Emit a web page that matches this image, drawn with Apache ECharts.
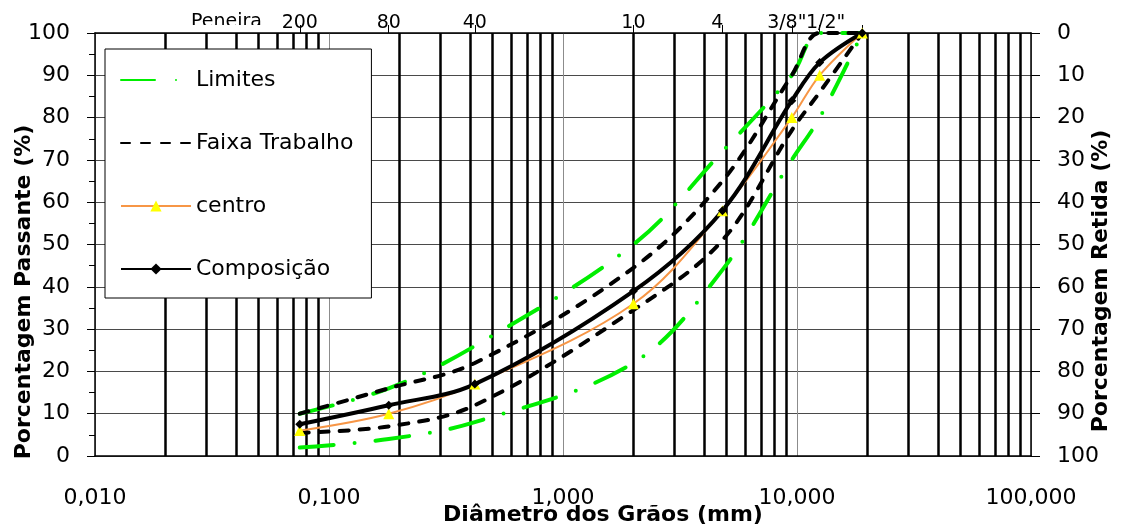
<!DOCTYPE html>
<html>
<head>
<meta charset="utf-8">
<script src="https://cdn.jsdelivr.net/npm/echarts@6/dist/echarts.min.js"></script>
<style>
html, body { margin: 0; padding: 0; background: #fff; }
#main { width: 1125px; height: 528px; }
</style>
</head>
<body>
<div id="main"></div>
<script>
// peneiras (abertura em mm) e rótulos do eixo superior
var peneiras = ['200', '80', '40', '10', '4', '3/8"', '1/2"', ''];
var aberturas = [0.075, 0.18, 0.42, 2.0, 4.8, 9.5, 12.5, 19];

// % passante
var limiteSup = [10, 16, 26, 50, 72, 90, 100, 100];
var limiteInf = [2, 4, 8, 22, 44, 70, 80, 100];
var faixaSup = [10, 16, 22, 44.5, 65, 90, 100, 100];
var faixaInf = [5.5, 7, 12, 34.5, 51, 77, 86, 100];
var centro = [6, 10, 17, 36, 58, 80, 90, 100];
var composicao = [7.5, 12, 17, 39, 58, 84, 93, 100];

var fonte = 'DejaVu Sans';

function pares(ys) {
    return aberturas.map(function (x, i) { return [x, ys[i]]; });
}

// pequenos deslocamentos dos rótulos apertados no topo
var estiloRotulo = { '4': 'e', '3/8"': 'e', '1/2"': 'd' };

function rotuloPeneira(v) {
    for (var i = 0; i < aberturas.length; i++) {
        if (Math.abs(aberturas[i] - v) < aberturas[i] * 1e-6) {
            var t = peneiras[i];
            return estiloRotulo[t] ? '{' + estiloRotulo[t] + '|' + t + '}' : t;
        }
    }
    return '';
}

var estiloLimite = { color: '#00EE00', width: 4, type: [34, 21, 0, 21], cap: 'round' };
var estiloFaixa = { color: '#000', width: 4, type: [9, 11], cap: 'round' };

var myChart = echarts.init(document.getElementById('main'));
var option = {
    animation: false,
    textStyle: { fontFamily: fonte, color: '#000' },
    grid: { left: 95, top: 33, width: 936, height: 423, containLabel: false, outerBoundsMode: 'none' },
    legend: {
        orient: 'vertical',
        left: 105,
        top: 49,
        padding: [19, 18, 17, 15],
        itemWidth: 70,
        itemHeight: 14,
        itemGap: 39,
        backgroundColor: '#fff',
        borderColor: '#000',
        borderWidth: 1,
        textStyle: { fontFamily: fonte, fontSize: 22, color: '#000', lineHeight: 24 },
        data: [
            { name: 'Limites', itemStyle: { opacity: 0 } },
            { name: 'Faixa Trabalho', itemStyle: { opacity: 0 } },
            'centro',
            'Composição'
        ]
    },
    xAxis: [
        {
            type: 'log',
            logBase: 10,
            min: 0.01,
            max: 100,
            position: 'bottom',
            axisLine: { lineStyle: { color: '#000', width: 1.5 } },
            axisTick: { show: false },
            minorTick: { show: false, splitNumber: 9 },
            axisLabel: {
                margin: 31,
                fontSize: 22,
                color: '#000',
                formatter: function (v) { return v.toFixed(3).replace('.', ','); }
            },
            splitLine: { show: true, lineStyle: { color: '#8c8c8c', width: 1 } },
            minorSplitLine: { show: true, lineStyle: { color: '#000', width: 2.5 } },
            name: 'Diâmetro dos Grãos (mm)',
            nameLocation: 'middle',
            nameGap: 48,
            nameMoveOverlap: false,
            nameTextStyle: { fontSize: 22, fontWeight: 'bold', color: '#000', padding: [0, 0, 0, 80] }
        },
        {
            type: 'log',
            logBase: 10,
            min: 0.01,
            max: 100,
            position: 'top',
            axisLine: { lineStyle: { color: '#000', width: 1.5 } },
            axisTick: { show: true, customValues: aberturas, length: 8, lineStyle: { color: '#000', width: 1 } },
            axisLabel: {
                customValues: aberturas,
                margin: 0,
                fontSize: 19,
                color: '#000',
                formatter: rotuloPeneira,
                rich: {
                    e: { fontSize: 19, fontFamily: fonte, padding: [0, 10, 0, 0] },
                    d: { fontSize: 19, fontFamily: fonte, padding: [0, 0, 0, 12] }
                }
            },
            splitLine: { show: false }
        }
    ],
    yAxis: [
        {
            type: 'value',
            min: 0,
            max: 100,
            interval: 10,
            position: 'left',
            axisLine: { show: true, lineStyle: { color: '#000', width: 1.5 } },
            axisTick: { show: true, length: 8, lineStyle: { color: '#000' } },
            minorTick: { show: true, splitNumber: 2, length: 6, lineStyle: { color: '#000' } },
            axisLabel: { margin: 25, fontSize: 22, color: '#000' },
            splitLine: { show: true, lineStyle: { color: '#4a4a4a', width: 1.2 } },
            name: 'Porcentagem Passante (%)',
            nameLocation: 'middle',
            nameGap: 60,
            nameMoveOverlap: false,
            nameTextStyle: { fontSize: 22, fontWeight: 'bold', color: '#000', padding: [0, 95, 0, 0] }
        },
        {
            type: 'value',
            min: 0,
            max: 100,
            interval: 10,
            inverse: true,
            position: 'right',
            axisLine: { show: true, lineStyle: { color: '#000', width: 1.5 } },
            axisTick: { show: true, length: 9, lineStyle: { color: '#000' } },
            axisLabel: { margin: 26, fontSize: 22, color: '#000' },
            splitLine: { show: false },
            name: 'Porcentagem Retida (%)',
            nameLocation: 'middle',
            nameGap: 59,
            nameMoveOverlap: false,
            nameTextStyle: { fontSize: 22, fontWeight: 'bold', color: '#000', padding: [0, 73, 0, 0] }
        }
    ],
    graphic: [
        {
            type: 'text', left: 191, top: 13, z: 10,
            style: { text: 'Peneira', fontFamily: fonte, fontSize: 19, fill: '#000' }
        },
        {
            type: 'rect', left: 185, top: 25, z: 11,
            shape: { width: 88, height: 7 },
            style: { fill: '#fff' }
        }
    ],
    series: [
        {
            name: 'Limites', type: 'line', smooth: 0.35, symbol: 'none',
            lineStyle: estiloLimite, itemStyle: { color: '#00EE00' },
            data: pares(limiteSup)
        },
        {
            name: 'Limites', type: 'line', smooth: 0.35, symbol: 'none',
            lineStyle: estiloLimite, itemStyle: { color: '#00EE00' },
            data: pares(limiteInf)
        },
        {
            name: 'Faixa Trabalho', type: 'line', smooth: 0.35, symbol: 'none',
            lineStyle: estiloFaixa, itemStyle: { color: '#000' },
            data: pares(faixaSup)
        },
        {
            name: 'Faixa Trabalho', type: 'line', smooth: 0.35, symbol: 'none',
            lineStyle: estiloFaixa, itemStyle: { color: '#000' },
            data: pares(faixaInf)
        },
        {
            name: 'centro', type: 'line', smooth: 0.35,
            symbol: 'triangle', symbolSize: 11,
            lineStyle: { color: '#F79646', width: 2 },
            itemStyle: { color: '#FFFF00', borderWidth: 0 },
            data: pares(centro)
        },
        {
            name: 'Composição', type: 'line', smooth: 0.35,
            symbol: 'diamond', symbolSize: 9,
            lineStyle: { color: '#000', width: 4 },
            itemStyle: { color: '#000', borderWidth: 0 },
            data: pares(composicao)
        }
    ]
};
myChart.setOption(option);
</script>
</body>
</html>
